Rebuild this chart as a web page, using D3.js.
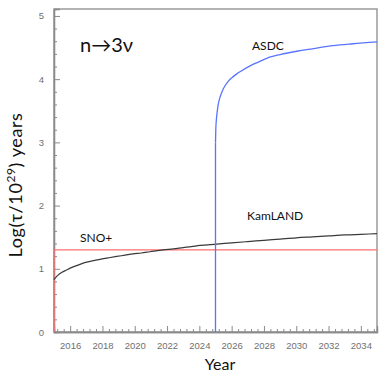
<!DOCTYPE html>
<html><head><meta charset="utf-8">
<script src="https://cdn.jsdelivr.net/npm/d3@7"></script>
<style>body{margin:0;background:#fff}svg{display:block}</style>
</head><body>
<svg id="c" width="390" height="377"></svg>
<script>
// Data
const kamYears = [2015.0, 2015.1, 2015.25, 2015.5, 2015.78, 2016.0, 2016.4, 2016.81, 2017.3, 2017.85, 2018.4, 2018.88, 2019.4, 2019.9, 2020.4, 2020.94, 2021.77, 2022.4, 2023.0, 2023.5, 2024.04, 2025.07, 2026, 2027, 2028, 2029, 2030, 2031, 2032, 2033, 2034, 2035];
const kamValues = [0.83, 0.86, 0.90, 0.945, 0.98, 1.01, 1.05, 1.09, 1.12, 1.15, 1.175, 1.195, 1.215, 1.235, 1.25, 1.27, 1.30, 1.315, 1.335, 1.35, 1.37, 1.39, 1.41, 1.43, 1.45, 1.47, 1.49, 1.505, 1.52, 1.535, 1.545, 1.555];
const asdcRiseYears = [2025.0, 2025.0];
const asdcRiseValues = [0, 3.0];
const asdcYears = [2025.0, 2025.02, 2025.07, 2025.17, 2025.3, 2025.45, 2025.6, 2025.8, 2026.0, 2026.3, 2026.6, 2027.14, 2027.65, 2028.17, 2029.0, 2030.23, 2031.0, 2032.28, 2033.5, 2035.0];
const asdcValues = [3.0, 3.22, 3.40, 3.60, 3.73, 3.83, 3.90, 3.97, 4.02, 4.08, 4.13, 4.21, 4.27, 4.33, 4.39, 4.45, 4.48, 4.53, 4.56, 4.59];
const snoYears = [2015.0, 2015.0, 2035.0];
const snoValues = [0, 1.3, 1.3];
const xMajorTicks = [2016, 2018, 2020, 2022, 2024, 2026, 2028, 2030, 2032, 2034];
const yMajorTicks = [0, 1, 2, 3, 4, 5];

const svg = d3.select("#c");
const x = d3.scaleLinear().domain([2015, 2035]).range([54, 377]);
const y = d3.scaleLinear().domain([0, 5.11]).range([332, 9]);

const axisColor = "#8a8a8a";
const labelColor = "#707070";

// frame
svg.append("rect").attr("x", x(2015)).attr("y", y(5.11))
  .attr("width", x(2035) - x(2015)).attr("height", y(0) - y(5.11))
  .attr("fill", "none").attr("stroke", axisColor).attr("stroke-width", 1.3);

// minor ticks
const xMinor = d3.range(2015.2, 2035.0, 0.4).filter(v => Math.abs(v/2 - Math.round(v/2)) > 0.01);
const yMinor = d3.range(0, 5.01, 0.2).filter(v => Math.abs(v - Math.round(v)) > 0.01);

const xAxisMinor = d3.axisBottom(x).tickValues(xMinor).tickSize(-3).tickFormat("");
const xAxis = d3.axisBottom(x).tickValues(xMajorTicks).tickSize(-6).tickPadding(10).tickFormat(d3.format("d"));
const yAxisMinor = d3.axisLeft(y).tickValues(yMinor).tickSize(-3).tickFormat("");
const yAxis = d3.axisLeft(y).tickValues(yMajorTicks).tickSize(-6).tickPadding(10).tickFormat(d3.format("d"));

function style(g){
  g.select(".domain").attr("stroke", axisColor).attr("stroke-width", 1.3);
  g.selectAll(".tick line").attr("stroke", axisColor).attr("stroke-width", 1);
  g.selectAll(".tick text").attr("fill", labelColor).attr("font-family", "Liberation Sans, Arial, sans-serif").attr("font-size", 9.5);
}
svg.append("g").attr("transform", `translate(0,${y(0)})`).call(xAxisMinor).call(style);
svg.append("g").attr("transform", `translate(0,${y(0)})`).call(xAxis).call(style);
svg.append("g").attr("transform", `translate(${x(2015)},0)`).call(yAxisMinor).call(style);
svg.append("g").attr("transform", `translate(${x(2015)},0)`).call(yAxis).call(style);

const lineLin = d3.line().x(d => x(d[0])).y(d => y(d[1]));
const lineSmooth = d3.line().x(d => x(d[0])).y(d => y(d[1])).curve(d3.curveMonotoneX);

svg.append("path").datum(snoYears.map((v,i)=>[v, snoValues[i]]))
  .attr("d", lineLin).attr("fill", "none").attr("stroke", "#ff6f6f").attr("stroke-width", 1.3);
svg.append("path").datum(kamYears.map((v,i)=>[v, kamValues[i]]))
  .attr("d", lineSmooth).attr("fill", "none").attr("stroke", "#3a3a3a").attr("stroke-width", 1.2);
svg.append("path").datum(asdcRiseYears.map((v,i)=>[v, asdcRiseValues[i]]))
  .attr("d", lineLin).attr("fill", "none").attr("stroke", "#5a74ff").attr("stroke-width", 1.3);
svg.append("path").datum(asdcYears.map((v,i)=>[v, asdcValues[i]]))
  .attr("d", lineSmooth).attr("fill", "none").attr("stroke", "#5a74ff").attr("stroke-width", 1.3);

const font = "Lato, 'Open Sans', sans-serif";
svg.append("text").attr("x", 80).attr("y", 242).attr("font-family", font).attr("font-size", 12).attr("fill", "#111").text("SNO+");
svg.append("text").attr("x", 247).attr("y", 220).attr("font-family", font).attr("font-size", 12).attr("fill", "#111").text("KamLAND");
svg.append("text").attr("x", 252).attr("y", 50).attr("font-family", font).attr("font-size", 12).attr("fill", "#111").text("ASDC");
svg.append("text").attr("x", 80).attr("y", 52).attr("font-family", font).attr("font-size", 20).attr("fill", "#111").text("n→3ν");
svg.append("text").attr("x", 220).attr("y", 370).attr("text-anchor", "middle").attr("font-family", font).attr("font-size", 16).attr("fill", "#111").text("Year");

const yt = svg.append("text").attr("transform", "translate(22,185) rotate(-90)").attr("text-anchor", "middle")
  .attr("font-family", font).attr("font-size", 18).attr("letter-spacing", 0.6).attr("fill", "#111");
yt.append("tspan").text("Log(τ/10");
yt.append("tspan").attr("dy", -7).attr("font-size", 12).text("29");
yt.append("tspan").attr("dy", 7).text(") years");
</script>
</body></html>
